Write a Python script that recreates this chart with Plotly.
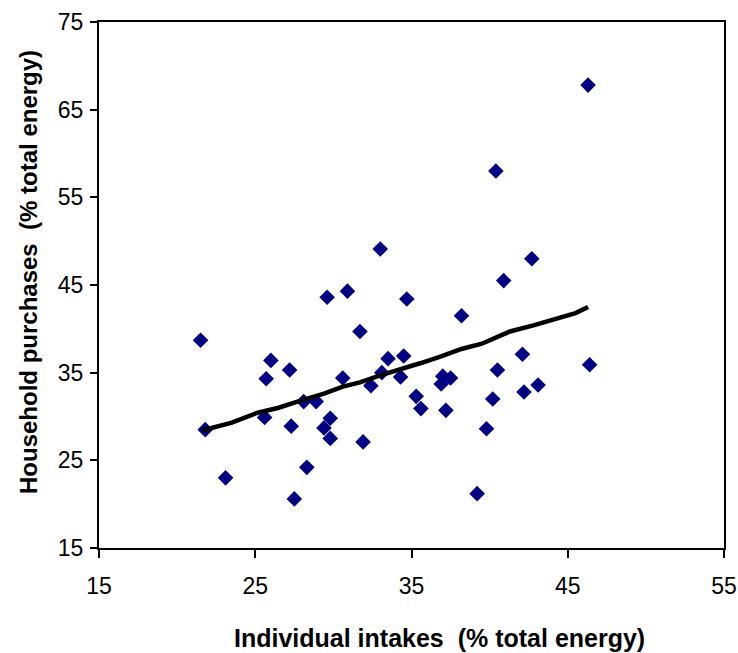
import plotly.graph_objects as go

# Scatter data: individual intakes (x) vs household purchases (y), % total energy
intake_x = [21.5, 21.8, 23.1, 25.6, 25.7, 26.0, 27.2, 27.3, 27.5, 28.1, 28.3, 28.9,
            29.8, 29.4, 29.8, 29.6, 30.6, 30.9, 31.7, 31.9, 32.4, 33.0,
            33.5, 34.5, 33.1, 34.3, 34.7, 35.3, 35.6,
            37.0, 37.5, 36.9, 37.2, 38.2, 39.2, 39.8, 40.2, 40.4, 40.5, 40.9,
            42.1, 42.2, 42.7, 43.1, 46.3, 46.4]
purchase_y = [38.7, 28.5, 23.0, 29.9, 34.3, 36.4, 35.3, 28.9, 20.6, 31.7, 24.2, 31.7,
              29.8, 28.7, 27.5, 43.6, 34.4, 44.3, 39.7, 27.1, 33.5, 49.1,
              36.6, 36.9, 35.0, 34.5, 43.4, 32.3, 30.9,
              34.6, 34.4, 33.7, 30.7, 41.5, 21.2, 28.6, 32.0, 58.0, 35.3, 45.5,
              37.1, 32.8, 48.0, 33.6, 67.8, 35.9]

# Fitted trend line, read along its path
trend_x = [21.6, 23.5, 25.1, 26.5, 27.7, 29.4, 30.6, 31.7, 33.0, 34.4, 35.6, 36.8,
           38.2, 39.5, 40.2, 41.3, 42.8, 44.5, 45.5, 46.3]
trend_y = [28.4, 29.3, 30.4, 31.0, 31.7, 32.6, 33.4, 33.9, 34.7, 35.4, 36.1, 36.8,
           37.7, 38.3, 38.9, 39.7, 40.4, 41.3, 41.8, 42.5]

x_ticks = [15, 25, 35, 45, 55]
y_ticks = [15, 25, 35, 45, 55, 65, 75]

x_title = "Individual intakes  (% total energy)"
y_title = "Household purchases  (% total energy)"

W, H = 738, 653
L, R, T, B = 99, 14, 22, 105

fig = go.Figure()
fig.add_trace(go.Scatter(
    x=intake_x, y=purchase_y, mode="markers",
    marker=dict(symbol="diamond", size=12, color="#000080", line=dict(width=0)),
    showlegend=False, hoverinfo="x+y"))
fig.add_trace(go.Scatter(
    x=trend_x, y=trend_y, mode="lines",
    line=dict(color="black", width=4.5), showlegend=False))

font = "Liberation Sans, Arial, sans-serif"
fig.update_layout(
    width=W, height=H,
    margin=dict(l=L, r=R, t=T, b=B, autoexpand=False),
    paper_bgcolor="white", plot_bgcolor="white",
    font=dict(family=font, size=23, color="black"),
)
common = dict(showgrid=False, zeroline=False, automargin=False,
              showline=True, linecolor="black", linewidth=2, mirror=True,
              ticks="outside", tickwidth=2, tickcolor="black",
              tickfont=dict(size=23, family=font, color="black"))
fig.update_xaxes(range=[15, 55], tickvals=x_ticks, ticktext=[str(v) for v in x_ticks],
                 ticklen=8, ticklabelstandoff=8, **common)
fig.update_yaxes(range=[15, 75], tickvals=y_ticks, ticktext=[str(v) for v in y_ticks],
                 ticklen=7, ticklabelstandoff=2, **common)

pw = W - L - R
ph = H - T - B
# axis titles placed as paper annotations
fig.add_annotation(text="<b>" + x_title + "</b>", xref="paper", yref="paper",
                   x=(439 - L) / pw, y=-(638 - (T + ph)) / ph,
                   xanchor="center", yanchor="middle", showarrow=False,
                   font=dict(size=25, family=font, color="black"))
fig.add_annotation(text="<b>" + y_title + "</b>", xref="paper", yref="paper",
                   x=(28 - L) / pw, y=1 - (272 - T) / ph,
                   xanchor="center", yanchor="middle", showarrow=False, textangle=-90,
                   font=dict(size=24, family=font, color="black"))

fig.write_html(
    "out.html",
    config={"displayModeBar": False},
    post_script="document.body.style.margin='0';document.body.style.overflow='hidden';",
)
